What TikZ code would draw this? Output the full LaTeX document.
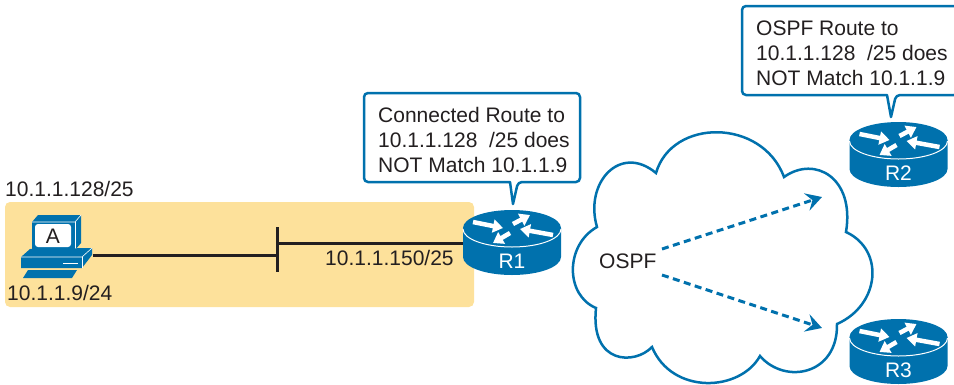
\documentclass[tikz,border=0pt]{standalone}
\usepackage{fontspec}
\setmainfont{Liberation Sans}
\usetikzlibrary{arrows.meta}
\definecolor{netblue}{RGB}{0,113,173}
\definecolor{lanyellow}{RGB}{253,225,155}
\definecolor{inkdark}{RGB}{35,31,32}
\tikzset{
    label text/.style={font=\fontsize{21}{25}\selectfont, text=inkdark, inner sep=0pt},
    note text/.style={label text, align=left, anchor=west},
    note box/.style={draw=netblue, line width=2.5pt, fill=white, line join=round},
    lan line/.style={draw=inkdark, line width=3pt},
    ospf flow/.style={draw=netblue, line width=3pt, dash pattern=on 7pt off 4.5pt,
        -{Stealth[length=16pt, width=18pt, inset=6pt]}},
    router arrow/.style={draw=white, line width=4.5pt,
        -{Triangle[length=10pt, width=13pt]}},
    pics/router/.style={code={
        \fill[netblue] (-49,0) -- (-49,29) .. controls (-49,39) and (-27,47) .. (0,47)
            .. controls (27,47) and (49,39) .. (49,29) -- (49,0) -- cycle;
        \fill[netblue] (0,0) ellipse [x radius=49, y radius=18];
        \draw[white, line width=1pt] (-49,1) .. controls (-49,11) and (-27,19) .. (0,19)
            .. controls (27,19) and (49,11) .. (49,1);
        \draw[router arrow] (-39,-6) -- (-9,0);
        \draw[router arrow] (1,-4) -- (18,-13);
        \draw[router arrow] (41,7) -- (8,1);
        \draw[router arrow] (-2,5) -- (-19,15);
        \node[font=\fontsize{21}{25}\selectfont, text=white, inner sep=0pt] (-lbl) at (0,33) {#1};
        \coordinate (-west) at (-49,15);
    }},
}
\begin{document}
\begin{tikzpicture}[x=1pt, y=-1pt]
    \path[use as bounding box, clip] (0,0) rectangle (954,384);

    % subnet of host A
    \fill[lanyellow, rounded corners=5pt] (5,202) rectangle (474,307);
    \node[label text, anchor=base west] (subnet) at (5,196) {10.1.1.128/25};
    \node[label text, anchor=base west] (hostip) at (7,300) {10.1.1.9/24};
    \node[label text, anchor=base west] (r1ip) at (325,265) {10.1.1.150/25};

    % host A
    \fill[netblue] (32,222) -- (38,215) -- (81,215) -- (81,243) -- (75,250) -- (32,250) -- cycle;
    \draw[white, line width=.6pt] (32,222) -- (75,222) -- (81,215);
    \draw[white, line width=.6pt] (75,222) -- (75,250);
    \fill[white, rounded corners=3pt] (35,224) rectangle (71,247);
    \fill[netblue] (21,257) -- (30,249) -- (92,248) -- (92,255) -- (82,268) -- (21,268) -- cycle;
    \draw[white, line width=.6pt] (21,257) -- (82,257) -- (92,248);
    \draw[white, line width=.6pt] (82,257) -- (82,268);
    \draw[white, line width=1pt] (63,263) -- (78,263);
    \fill[netblue] (28,270) -- (77,270) -- (72,278) -- (23,278) -- cycle;
    \node[label text] (hosta) at (53,236) {A};

    % ethernet
    \coordinate (pcport) at (93,255);
    \coordinate (bartop) at (277.5,227);
    \coordinate (barbot) at (277.5,272);
    \coordinate (barin) at (277.5,255);
    \coordinate (barout) at (277.5,243);

    % cloud
    \draw[netblue, line width=2.5pt, fill=white, line join=miter] (597,227)
        .. controls (584,183) and (620,143) .. (656,173)
        .. controls (672,118) and (762,118) .. (784,177)
        .. controls (815,155) and (855,178) .. (846,232)
        .. controls (885,250) and (880,305) .. (837,324)
        .. controls (838,375) and (785,385) .. (760,356)
        .. controls (740,392) and (672,395) .. (652,347)
        .. controls (635,365) and (590,365) .. (596,308)
        .. controls (565,295) and (565,245) .. cycle;
    \node[label text, anchor=base west] (ospf) at (599,268) {OSPF};
    \coordinate (flowa) at (662,249);
    \coordinate (flowb) at (662,275);
    \coordinate (flowaend) at (822,197);
    \coordinate (flowbend) at (822,328);
    \draw[ospf flow] (flowa) -- (flowaend);
    \draw[ospf flow] (flowb) -- (flowbend);

    % routers
    \pic (r1) at (512,228) {router=R1};
    \pic (r2) at (898.5,140) {router=R2};
    \pic (r3) at (898.5,337) {router=R3};

    \draw[lan line] (pcport) -- (barin);
    \draw[lan line] (bartop) -- (barbot);
    \draw[lan line] (barout) -- (r1-west);

    % notes
    \draw[note box, rounded corners=4pt] (472,93) -- (580,93) -- (580,182) -- (518,182)
        [sharp corners] -- (513,204) -- (510,182)
        [rounded corners=4pt] -- (364,182) -- (364,93) -- cycle;
    \node[note text] (note1) at (378,140) {Connected Route to\\10.1.1.128\ \ /25 does\\NOT Match 10.1.1.9};
    \draw[note box, rounded corners=4pt] (850,6) -- (958,6) -- (958,95) -- (896,95)
        [sharp corners] -- (891,117) -- (887,95)
        [rounded corners=4pt] -- (742,95) -- (742,6) -- cycle;
    \node[note text] (note2) at (756,53) {OSPF Route to\\10.1.1.128\ \ /25 does\\NOT Match 10.1.1.9};
\end{tikzpicture}
\end{document}
